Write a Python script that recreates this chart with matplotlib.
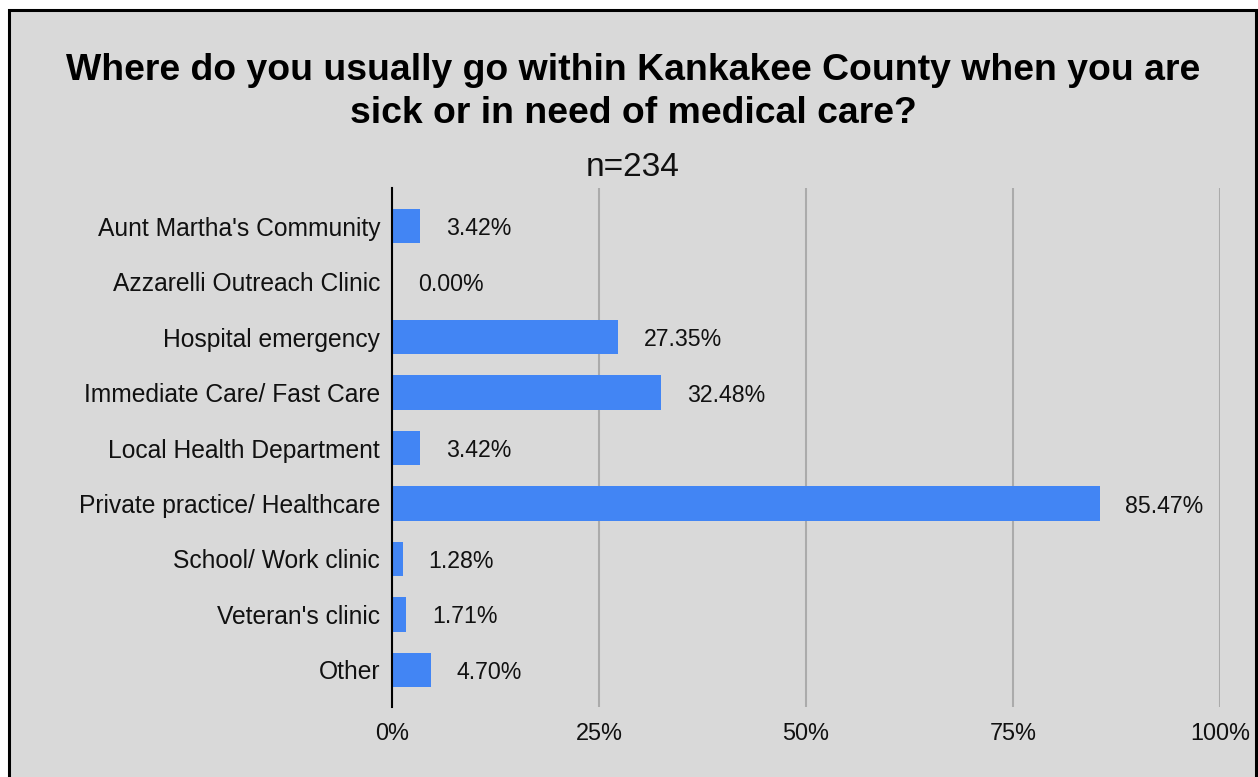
import matplotlib.pyplot as plt
from matplotlib.patches import Rectangle
from matplotlib.ticker import FuncFormatter

# Survey data (percent of respondents, n=234)
categories = [
    "Aunt Martha's Community",
    "Azzarelli Outreach Clinic",
    "Hospital emergency",
    "Immediate Care/ Fast Care",
    "Local Health Department",
    "Private practice/ Healthcare",
    "School/ Work clinic",
    "Veteran's clinic",
    "Other",
]
values = [3.42, 0.00, 27.35, 32.48, 3.42, 85.47, 1.28, 1.71, 4.70]
x_ticks = [0, 25, 50, 75, 100]

BG = "#d9d9d9"
BAR = "#4285f4"
FONT = ["Liberation Sans", "DejaVu Sans"]

plt.rcParams['font.family'] = FONT

fig = plt.figure(figsize=(12.58, 7.77), dpi=100)
fig.patch.set_facecolor("white")

# Gray panel with black frame
W, H = 1258, 777
panel = Rectangle((9 / W, -0.05), (1256 - 9) / W, 1 - 10 / H + 0.05,
                  transform=fig.transFigure, facecolor=BG, edgecolor="black",
                  linewidth=2.2, zorder=-10)
fig.patches.append(panel)

ax = fig.add_axes([392 / W, 1 - 707 / H, (1220 - 392) / W, (707 - 188) / H])
ax.set_facecolor("none")

ypos = list(range(len(categories)))
ax.barh(ypos, values, height=0.62, color=BAR, zorder=3)

for y, v in zip(ypos, values):
    ax.annotate(f"{v:.2f}%", (v, y), xytext=(18.5, 0), textcoords="offset points",
                ha="left", va="center_baseline", fontsize=16.7, color="#111111")

ax.set_xlim(0, 100)
ax.set_ylim(8.67, -0.69)
ax.set_xticks(x_ticks)
ax.xaxis.set_major_formatter(FuncFormatter(lambda v, p: f"{v:.0f}%"))
ax.set_yticks(ypos)
ax.set_yticklabels(categories, fontsize=17.7)
ax.tick_params(axis="both", length=0, colors="#111111")
ax.tick_params(axis="x", labelsize=16.9, pad=11)
ax.tick_params(axis="y", pad=8.5)

ax.grid(axis="x", color="#ababab", linewidth=1.5, zorder=0)
for s in ["top", "right", "bottom"]:
    ax.spines[s].set_visible(False)
ax.spines["left"].set_color("black")
ax.spines["left"].set_linewidth(1.5)
ax.spines["left"].set_zorder(4)

fig.text(633 / W, 1 - 92 / H,
         "Where do you usually go within Kankakee County when you are\nsick or in need of medical care?",
         ha="center", va="center", fontsize=26.9, fontweight="bold",
         linespacing=1.32)
fig.text(633 / W, 1 - 168 / H, "n=234", ha="center", va="center",
         fontsize=24, color="#111111")

fig.savefig("out.png", dpi=100, facecolor=fig.get_facecolor())
